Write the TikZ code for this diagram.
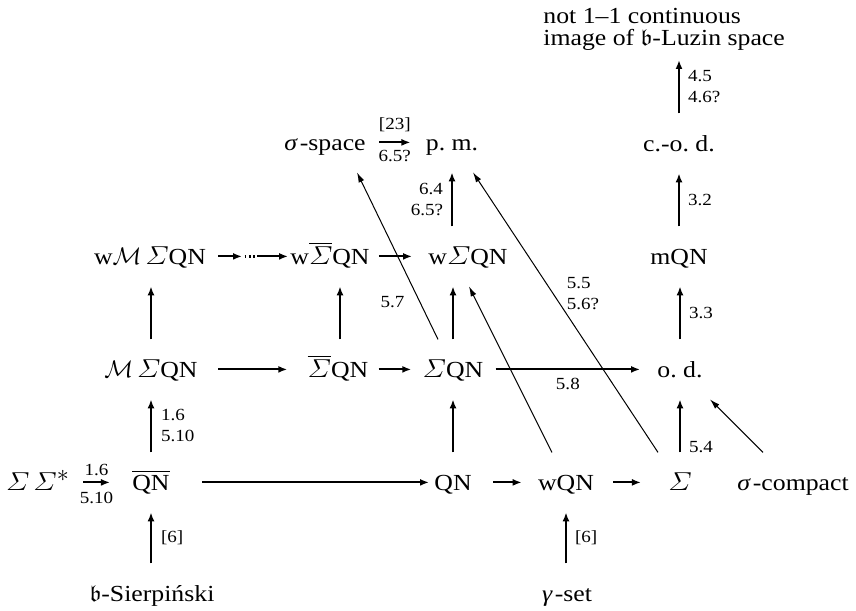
\documentclass[tikz,border=0pt]{standalone}
\usepackage{amsmath}
\usepackage{amssymb}
\usepackage{fontspec}
\setmainfont{Liberation Serif}[FakeStretch=1.12]
\usetikzlibrary{arrows.meta}
\newcommand{\Sig}{\scalebox{1.18}[1.08]{$\varSigma$}}
\newcommand{\Sigbar}{$\overline{\mbox{\Sig}}$}
\newcommand{\QNbar}{$\overline{\mbox{QN}}$}
\newcommand{\Mcal}{$\mathcal{M}$}
\newcommand{\frb}{$\mathfrak{b}$}
\begin{document}
\begin{tikzpicture}[x=0.5pt,y=-0.5pt,
  every node/.style={inner sep=0pt},
  obj/.style={font=\fontsize{11.5}{11}\selectfont, text height=7.6pt, text depth=0pt,
    inner xsep=0pt, inner ysep=11pt, anchor=base},
  lab/.style={font=\fontsize{8.5}{10.5}\selectfont, inner sep=0pt},
  arr/.style={line width=1pt, -{Latex[length=4.5pt,width=3.5pt]}},
  diag/.style={line width=0.5pt, -{Latex[length=5pt,width=3pt]}},
  dots/.style={line width=1.1pt, dash pattern=on 0.8pt off 1.4pt},
]
\useasboundingbox (0,0) rectangle (856,610);

% top block
\node[font=\fontsize{11.5}{11}\selectfont, align=left, anchor=south west,
      inner xsep=0pt, inner ysep=4.5pt] (top) at (543,60)
      {not 1--1 continuous\\image of \frb-Luzin space};

% row 1
\node[obj] (sspace) at (325,150) {\textit{σ}\kern1pt-space};
\node[obj] (pm) at (452,150) {p.\ m.};
\node[obj] (cod) at (679,151) {c.-o.\ d.};
% row 2
\node[obj] (wMSQN) at (150,264) {w\Mcal\,\Sig QN};
\node[obj] (wSbQN) at (330,264) {w\Sigbar QN};
\node[obj] (wSQN) at (468,264) {w\Sig QN};
\node[obj] (mQN) at (679,264) {mQN};
% row 3
\node[obj] (MSQN) at (151,377) {\Mcal\,\Sig QN};
\node[obj] (SbQN) at (338,377) {\Sigbar QN};
\node[obj] (SQN) at (453,377) {\Sig QN};
\node[obj] (od) at (680,377) {o.\ d.};
% row 4
\node[obj] (SS) at (38,490) {\Sig\,\Sig$^{\textstyle *}$};
\node[obj] (QNb) at (151,490) {\QNbar};
\node[obj] (QN) at (453,490) {QN};
\node[obj] (wQN) at (566,490) {wQN};
\node[obj] (Sig) at (680,490) {\Sig};
\node[obj] (scomp) at (793,490) {\textit{σ}\kern1pt-compact};
% row 5
\node[obj] (bS) at (152,601) {\frb-Sierpiński};
\node[obj] (gset) at (567,601) {\textit{γ}\kern1pt-set};

% dotted chain coordinates
\coordinate (c1) at (242,256.4);
\coordinate (d1) at (244.5,256.4);
\coordinate (d2) at (255,256.4);
\coordinate (c2) at (257,256.4);

% horizontal arrows
\draw[arr] ([xshift=6pt]wMSQN.east) -- (c1);
\draw[dots] (d1) -- (d2);
\draw[arr] (c2) -- ([xshift=-1pt]wSbQN.west);
\draw[arr] ([xshift=4.5pt]wSbQN.east) -- ([xshift=-8pt]wSQN.west);
\draw[arr] ([xshift=10pt]MSQN.east) -- ([xshift=-10pt]SbQN.west);
\draw[arr] ([xshift=5pt]SbQN.east) -- ([xshift=-5.5pt]SQN.west);
\draw[arr] ([xshift=6pt]SQN.east) -- ([xshift=-8.5pt]od.west)
  node[lab, midway, below=4pt] {5.8};
\draw[arr] ([xshift=6.5pt]SS.east) -- ([xshift=-11pt]QNb.west)
  node[lab, midway, above=3pt] {1.6}
  node[lab, midway, below=4.5pt] {5.10};
\draw[arr] ([xshift=16pt]QNb.east) -- ([xshift=-2.5pt]QN.west);
\draw[arr] ([xshift=10.5pt]QN.east) -- ([xshift=-8pt]wQN.west);
\draw[arr] ([xshift=9.5pt]wQN.east) -- ([xshift=-13.5pt]Sig.west);
\draw[arr] ([xshift=6.5pt]sspace.east) -- ([xshift=-7.5pt]pm.west)
  node[lab, midway, above=5pt] {[23]}
  node[lab, midway, below=3.5pt] {6.5?};

% vertical arrows
\draw[arr] (cod.north) -- (cod.north |- top.south)
  node[lab, midway, right=4pt, align=left] {4.5\\4.6?};
\draw[arr] (mQN.north) -- (mQN.north |- cod.south)
  node[lab, midway, right=4pt] {3.2};
\draw[arr] (od.north) -- (od.north |- mQN.south)
  node[lab, midway, right=4pt] {3.3};
\draw[arr] (Sig.north) -- (Sig.north |- od.south)
  node[lab, pos=0.1, right=4pt] {5.4};
\draw[arr] (pm.south |- wSQN.north) -- (pm.south)
  node[lab, midway, left=4pt, align=right] {6.4\\6.5?};
\draw[arr] (MSQN.north) -- (MSQN.north |- wMSQN.south);
\draw[arr] ([xshift=1pt]SbQN.north) -- ([xshift=1pt]SbQN.north |- wSbQN.south);
\draw[arr] (SQN.north) -- (SQN.north |- wSQN.south);
\draw[arr] (QN.north) -- (QN.north |- SQN.south);
\draw[arr] (QNb.north) -- (QNb.north |- MSQN.south)
  node[lab, midway, right=4.5pt, align=left] {1.6\\5.10};
\draw[arr] (QNb.south |- bS.north) -- (QNb.south)
  node[lab, midway, right=4.5pt] {[6]};
\draw[arr] (wQN.south |- gset.north) -- (wQN.south)
  node[lab, midway, right=4pt] {[6]};

% diagonal lines
\draw[diag] ([xshift=-7.5pt]SQN.north) -- ([xshift=16pt]sspace.south)
  node[lab, pos=0.223, anchor=east, xshift=-7.5pt] {5.7};
\draw[diag] ([xshift=-7pt]wQN.north) -- ([xshift=0.5pt]wSQN.south);
\draw[diag] ([xshift=-11pt]Sig.north) -- ([xshift=10.5pt]pm.south)
  node[lab, pos=0.566, anchor=west, xshift=6.5pt, align=left] {5.5\\5.6?};
\draw[diag] ([xshift=-15pt]scomp.north) -- ([xshift=15pt]od.south);
\end{tikzpicture}
\end{document}
